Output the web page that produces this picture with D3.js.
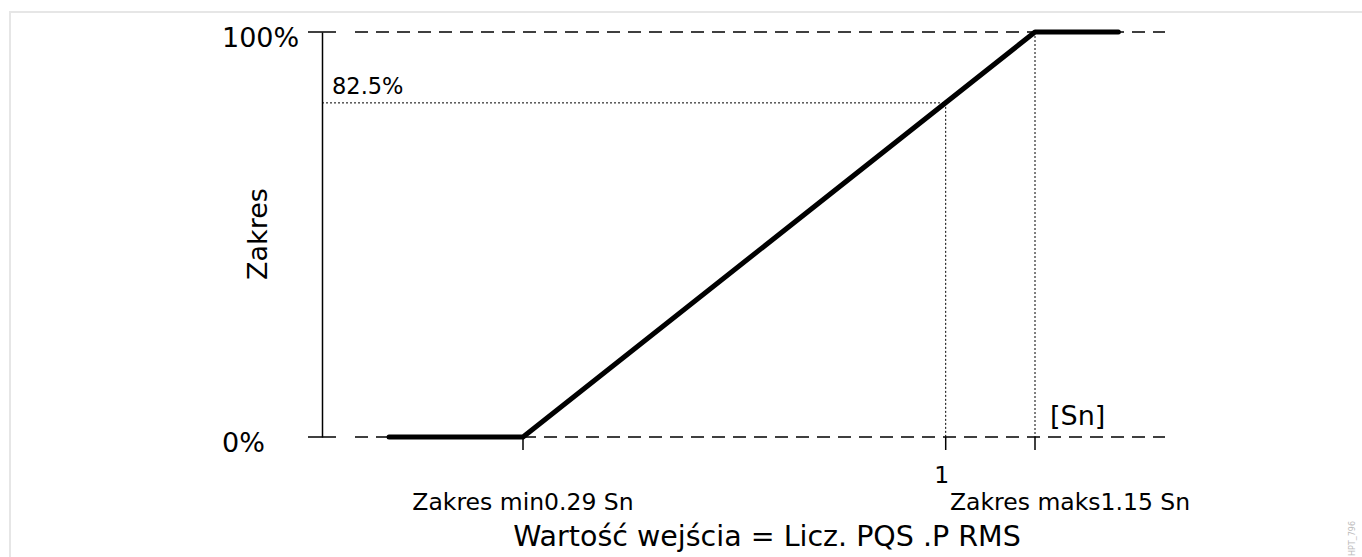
<!DOCTYPE html>
<html>
<head>
<meta charset="utf-8">
<script src="https://cdn.jsdelivr.net/npm/d3@7/dist/d3.min.js"></script>
<style>
  html, body { margin: 0; padding: 0; background: #fff; }
  svg { display: block; font-family: "DejaVu Sans", sans-serif; }
</style>
</head>
<body>
<svg id="chart" width="1362" height="557"></svg>
<script>
// Characteristic: output range vs. input value (in Sn)
const curveX = [0.065, 0.29, 1.15, 1.29];
const curveY = [0, 0, 100, 100];

const yTicks = [0, 100];
const yTickLabels = ["0%", "100%"];

const xTicks = [0.29, 1, 1.15];
const xTickLabels = ["Zakres min0.29 Sn", "1", "Zakres maks1.15 Sn"];

const markerX = 1;
const markerY = 82.5;
const markerLabel = "82.5%";
const unitLabel = "[Sn]";
const yTitle = "Zakres";
const xTitle = "Wartość wejścia = Licz. PQS .P RMS";
const figId = "HPT_796";

const svg = d3.select("#chart");

const x = d3.scaleLinear().domain([0.29, 1.15]).range([523, 1035]);
const y = d3.scaleLinear().domain([0, 100]).range([437, 32]);

// frame
svg.append("path")
  .attr("d", "M10,557 V12 H1362")
  .attr("fill", "none").attr("stroke", "#e6e6e6").attr("stroke-width", 2);

// dashed reference levels at 0% and 100%
svg.selectAll("line.level").data(yTicks).join("line")
  .attr("class", "level")
  .attr("x1", 355).attr("x2", 1165)
  .attr("y1", d => y(d)).attr("y2", d => y(d))
  .attr("stroke", "#000").attr("stroke-width", 1.5)
  .attr("stroke-dasharray", "13,8");

// y axis
const yAxis = d3.axisLeft(y).tickValues(yTicks).tickSize(0).tickFormat("");
const gy = svg.append("g").attr("transform", "translate(322,0)").call(yAxis);
gy.select(".domain").attr("stroke", "#000").attr("stroke-width", 1.5);
gy.selectAll(".tick line").remove();
svg.selectAll("line.ytick").data(yTicks).join("line")
  .attr("class", "ytick")
  .attr("x1", 308).attr("x2", 336)
  .attr("y1", d => y(d)).attr("y2", d => y(d))
  .attr("stroke", "#000").attr("stroke-width", 1.5);
svg.selectAll("text.ylab").data(yTicks).join("text")
  .attr("class", "ylab")
  .attr("x", 222)
  .attr("y", d => y(d) + 15)
  .attr("font-size", 27)
  .text((d, i) => yTickLabels[i]);

// x ticks
svg.selectAll("line.xtick").data(xTicks).join("line")
  .attr("class", "xtick")
  .attr("x1", d => x(d)).attr("x2", d => x(d))
  .attr("y1", y(0)).attr("y2", y(0) + 13)
  .attr("stroke", "#000").attr("stroke-width", 1.5);

// dotted guides
const dotted = [
  [322, y(markerY), x(markerX), y(markerY)],
  [x(markerX), y(markerY), x(markerX), y(0)],
  [x(1.15), y(100), x(1.15), y(0)]
];
svg.selectAll("line.guide").data(dotted).join("line")
  .attr("class", "guide")
  .attr("x1", d => d[0]).attr("y1", d => d[1])
  .attr("x2", d => d[2]).attr("y2", d => d[3])
  .attr("stroke", "#000").attr("stroke-width", 1)
  .attr("stroke-dasharray", "2,2");

// characteristic curve
const pts = curveX.map((v, i) => [v, curveY[i]]);
svg.append("path")
  .datum(pts)
  .attr("d", d3.line().x(d => x(d[0])).y(d => y(d[1])))
  .attr("fill", "none").attr("stroke", "#000")
  .attr("stroke-width", 5).attr("stroke-linecap", "round").attr("stroke-linejoin", "round");

// labels
svg.append("text").attr("x", 332).attr("y", y(markerY) - 9)
  .attr("font-size", 22.5).text(markerLabel);

svg.append("text").attr("x", 1050).attr("y", 425)
  .attr("font-size", 27).text(unitLabel);

svg.append("text").attr("x", x(1) - 4).attr("y", 483)
  .attr("text-anchor", "middle").attr("font-size", 23.5).text(xTickLabels[1]);
svg.append("text").attr("x", x(0.29)).attr("y", 510)
  .attr("text-anchor", "middle").attr("font-size", 23.5).text(xTickLabels[0]);
svg.append("text").attr("x", 950).attr("y", 510)
  .attr("font-size", 23.5).text(xTickLabels[2]);

svg.append("text").attr("x", 767).attr("y", 546)
  .attr("text-anchor", "middle").attr("font-size", 28.5).text(xTitle);

svg.append("text")
  .attr("transform", "translate(267,234) rotate(-90)")
  .attr("text-anchor", "middle").attr("font-size", 27).text(yTitle);

svg.append("text")
  .attr("transform", "translate(1355,556) rotate(-90)")
  .attr("font-size", 8).attr("fill", "#bbb").text(figId);
</script>
</body>
</html>
